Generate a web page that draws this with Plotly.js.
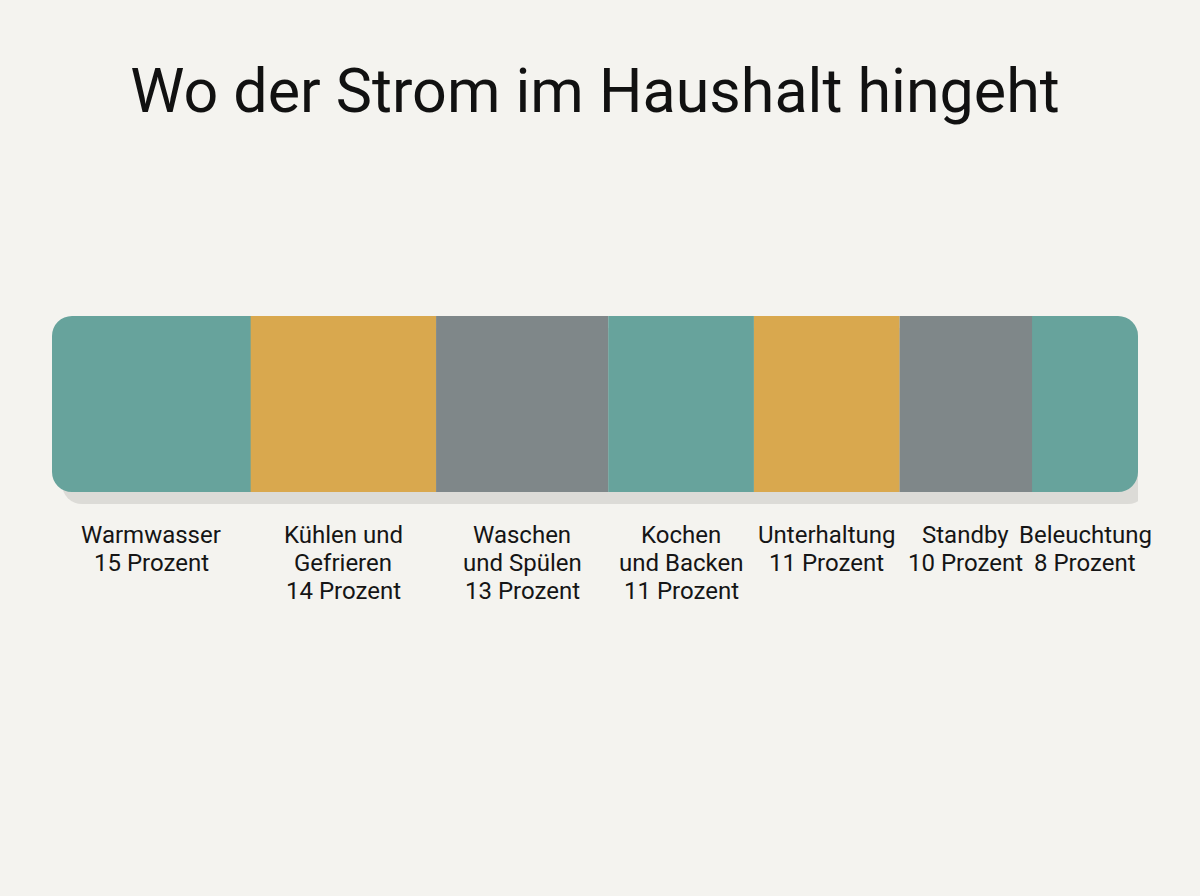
<!DOCTYPE html>
<html>
<head>
<meta charset="utf-8">
<script src="https://cdn.plot.ly/plotly-3.0.1.min.js"></script>
<style>
html,body{margin:0;padding:0;background:#F4F3EF;}
#chart{width:1200px;height:896px;}
</style>
</head>
<body>
<div id="chart"></div>
<script>
const categories = ["Warmwasser", "Kühlen und<br>Gefrieren", "Waschen<br>und Spülen", "Kochen<br>und Backen", "Unterhaltung", "Standby", "Beleuchtung"];
const values = [15, 14, 13, 11, 11, 10, 8];
const valueLabels = ["15 Prozent", "14 Prozent", "13 Prozent", "11 Prozent", "11 Prozent", "10 Prozent", "8 Prozent"];
const colors = ["#67A39C", "#D9A84E", "#7F8789", "#67A39C", "#D9A84E", "#7F8789", "#67A39C"];

const total = values.reduce((a, b) => a + b, 0);
const BAR_W = 0.8;
const PX_PER_UNIT = 1086 / total;
const SHADOW_DX = 10 / PX_PER_UNIT;
const SHADOW_DY = 12 / 220;
const RADIUS = 20;
const OVERLAP = 2;

const starts = [];
let cum = 0;
values.forEach(v => { starts.push(cum); cum += v; });
const centers = values.map((v, i) => starts[i] + v / 2);

const traces = [];
traces.push({
  type: 'bar', orientation: 'h', y: [-SHADOW_DY], x: [total], base: [SHADOW_DX],
  width: BAR_W, marker: {color: '#DCDBD7', cornerradius: RADIUS, line: {width: 0}},
  hoverinfo: 'skip', showlegend: false
});

function segTrace(i, base, len, rounded) {
  const name = categories[i].replace('<br>', ' ');
  const m = {color: colors[i], line: {width: 0}};
  if (rounded) m.cornerradius = RADIUS;
  return {
    type: 'bar', orientation: 'h', y: [0], x: [len], base: [base], width: BAR_W,
    marker: m, name: name, showlegend: false,
    hovertemplate: name + ': ' + values[i] + ' %<extra></extra>'
  };
}
const n = values.length;
traces.push(segTrace(0, starts[0], values[0] + OVERLAP, true));
traces.push(segTrace(n - 1, starts[n - 1] - OVERLAP, values[n - 1] + OVERLAP, true));
for (let i = 1; i < n - 1; i++) traces.push(segTrace(i, starts[i], values[i], false));

const annotations = [];
categories.forEach((c, i) => {
  const lines = c.split('<br>').concat([valueLabels[i]]);
  lines.forEach((ln, j) => {
    annotations.push({
      x: centers[i], y: -BAR_W / 2, xref: 'x', yref: 'y',
      text: ln, showarrow: false, xanchor: 'center', yanchor: 'middle',
      yshift: -43 - 28 * j,
      font: {family: 'Roboto, sans-serif', size: 24, color: '#151515'}
    });
  });
});

const layout = {
  width: 1200, height: 896,
  paper_bgcolor: '#F4F3EF', plot_bgcolor: '#F4F3EF',
  margin: {l: 52, r: 62, t: 294, b: 382},
  barmode: 'overlay',
  showlegend: false,
  title: {
    text: 'Wo der Strom im Haushalt hingeht',
    font: {family: 'Roboto, sans-serif', size: 61, color: '#111111'},
    x: 0.5, xanchor: 'center', xref: 'paper',
    y: 1 - 91 / 896, yref: 'container', yanchor: 'middle'
  },
  xaxis: {range: [0, total], visible: false, fixedrange: true},
  yaxis: {range: [-0.5, 0.5], visible: false, fixedrange: true},
  annotations: annotations
};

Plotly.newPlot('chart', traces, layout, {displayModeBar: false, staticPlot: true});
</script>
</body>
</html>
